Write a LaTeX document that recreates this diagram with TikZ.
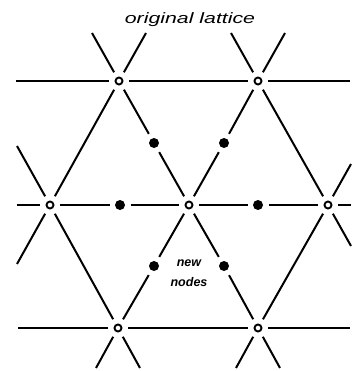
\documentclass[tikz,border=0pt]{standalone}
\usepackage{fontspec}
\newfontfamily\latfont{Liberation Sans}
\usetikzlibrary{positioning}

\begin{document}
\begin{tikzpicture}[x=1pt,y=-1pt,
  site/.style={circle,draw,line width=1.9pt,fill=white,minimum size=7pt,inner sep=0pt,outer sep=6.5pt},
  newsite/.style={circle,fill,minimum size=10pt,inner sep=0pt,outer sep=5.5pt},
  bond/.style={line width=2pt},
  ttl/.style={font=\latfont\itshape\fontsize{15}{17}\selectfont,inner sep=0pt,anchor=base},
  lbl/.style={font=\latfont\bfseries\itshape\fontsize{12.5}{20}\selectfont,align=center,inner sep=0pt}]
 \useasboundingbox (0,0) rectangle (351,371);
 % ---- title ----
 \node[ttl] (T) at (190,24) {\scalebox{1.42}[1]{original lattice}};
 % ---- lattice sites ----
 \node[site] (t1) at (119,81) {};
 \node[site] (t2) at (258,81) {};
 \node[site] (m1) at (50,205) {};
 \node[site] (m2) at (189,205) {};
 \node[site] (m3) at (328,205) {};
 \node[site] (b1) at (118,328) {};
 \node[site] (b2) at (258,328) {};
 % ---- new nodes ----
 \node[newsite] (d1) at (154,143) {};
 \node[newsite] (d2) at (224,143) {};
 \node[newsite] (d3) at (120,205) {};
 \node[newsite] (d4) at (258,205) {};
 \node[newsite] (d5) at (154,266) {};
 \node[newsite] (d6) at (224,266) {};
 \node[lbl] (N) at (189,273) {new\\nodes};
 % ---- free ends ----
 \coordinate (t1w) at (16,81);
 \coordinate (t1a) at (92,33);
 \coordinate (t1b) at (146,33);
 \coordinate (t2a) at (231,33);
 \coordinate (t2b) at (285,33);
 \coordinate (t2e) at (350,81);
 \coordinate (m1w) at (17,205);
 \coordinate (m1a) at (17,146);
 \coordinate (m1b) at (17,264);
 \coordinate (m3e) at (351,205);
 \coordinate (m3a) at (351,164);
 \coordinate (m3b) at (351,246);
 \coordinate (b1w) at (18,328);
 \coordinate (b1a) at (96,368);
 \coordinate (b1b) at (140,368);
 \coordinate (b2a) at (236,368);
 \coordinate (b2b) at (280,368);
 \coordinate (b2e) at (350,328);
 % ---- bonds ----
 \draw[bond] (t1)--(t2);
 \draw[bond] (t1)--(m1);
 \draw[bond] (t2)--(m3);
 \draw[bond] (m1)--(b1);
 \draw[bond] (m3)--(b2);
 \draw[bond] (b1)--(b2);
 \foreach \a/\d in {t1/d1,t2/d2,m1/d3,m3/d4,b1/d5,b2/d6}{
   \draw[bond] (\a)--(\d);
   \draw[bond] (\d)--(m2);
 }
 \foreach \a/\e in {t1/t1w,t1/t1a,t1/t1b,t2/t2a,t2/t2b,t2/t2e,
                    m1/m1w,m1/m1a,m1/m1b,m3/m3e,m3/m3a,m3/m3b,
                    b1/b1w,b1/b1a,b1/b1b,b2/b2a,b2/b2b,b2/b2e}
   \draw[bond] (\a)--(\e);
\end{tikzpicture}
\end{document}
